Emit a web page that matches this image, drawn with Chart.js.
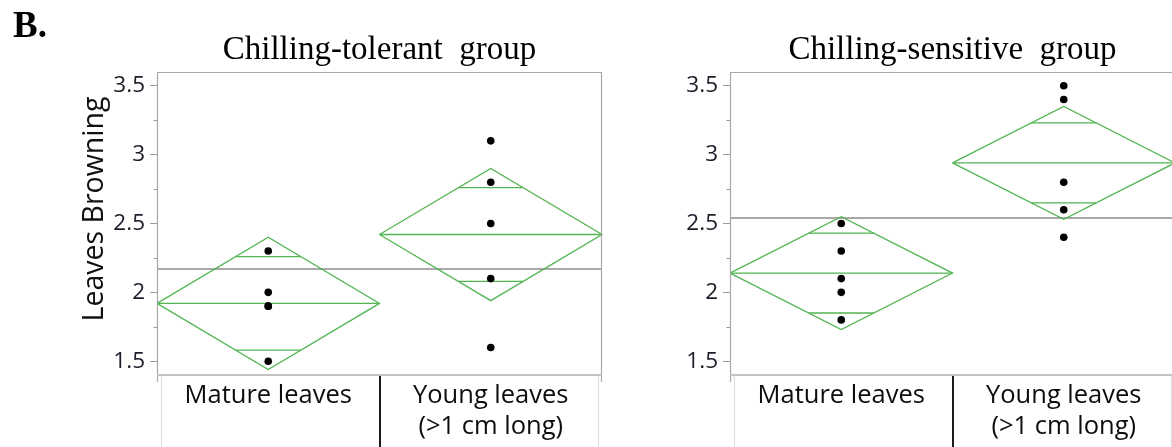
<!DOCTYPE html>
<html>
<head>
<meta charset="utf-8">
<script src="https://cdn.jsdelivr.net/npm/chart.js@4.4.1/dist/chart.umd.min.js"></script>
<style>
  html, body { margin: 0; padding: 0; background: #fff; overflow: hidden; }
  #wrap { position: relative; width: 1172px; height: 447px; overflow: hidden; }
  canvas { position: absolute; top: 0; }
  #left { left: 0; }
  #right { left: 640px; }
</style>
</head>
<body>
<div id="wrap">
  <canvas id="left" width="640" height="447"></canvas>
  <canvas id="right" width="560" height="447"></canvas>
</div>
<script>
// Category labels (one entry per line) and axis ticks
const categories = [["Mature leaves"], ["Young leaves", "(>1 cm long)"]];
const panelLetter = "B.";
const yAxisTitle = "Leaves Browning";
const yTicks = [1.5, 2, 2.5, 3, 3.5];
const yMinorTicks = [1.75, 2.25, 2.75, 3.25];

// Chilling-tolerant group
const tolerantTitle = "Chilling-tolerant  group";
const tolerantMature = [2.3, 2.0, 1.9, 1.9, 1.5];
const tolerantYoung = [3.1, 2.8, 2.5, 2.1, 1.6];
const tolerantMeans = [1.92, 2.42];
const tolerantCiUpper = [2.40, 2.90];
const tolerantCiLower = [1.44, 1.94];
const tolerantMarkUpper = [2.26, 2.76];
const tolerantMarkLower = [1.58, 2.08];
const tolerantGrandMean = 2.17;

// Chilling-sensitive group
const sensitiveTitle = "Chilling-sensitive  group";
const sensitiveMature = [2.5, 2.3, 2.1, 2.0, 1.8];
const sensitiveYoung = [3.5, 3.4, 2.8, 2.6, 2.4];
const sensitiveMeans = [2.14, 2.94];
const sensitiveCiUpper = [2.55, 3.35];
const sensitiveCiLower = [1.73, 2.53];
const sensitiveMarkUpper = [2.43, 3.23];
const sensitiveMarkLower = [1.85, 2.65];
const sensitiveGrandMean = 2.54;

const GREEN = '#52b552';
const SANS = '"Open Sans", "Noto Sans", sans-serif';
const SERIF = '"Liberation Serif", "Times New Roman", serif';

function lineSet(points, color, width, order) {
  return {
    type: 'scatter', data: points, showLine: true, tension: 0,
    borderColor: color, borderWidth: width, pointRadius: 0,
    fill: false, clip: false, order: order
  };
}

function buildDatasets(groups, g) {
  const ds = [];
  // grand mean across both categories
  ds.push(lineSet([{x: 0, y: g.grand}, {x: categories.length, y: g.grand}], '#8c8c8c', 1.5, 3));
  for (let i = 0; i < categories.length; i++) {
    const m = g.means[i], hi = g.ciUpper[i], lo = g.ciLower[i];
    const c = i + 0.5;
    // means diamond
    ds.push(lineSet([
      {x: i, y: m}, {x: c, y: hi}, {x: i + 1, y: m}, {x: c, y: lo}, {x: i, y: m}
    ], GREEN, 1.3, 2));
    // mean line
    ds.push(lineSet([{x: i, y: m}, {x: i + 1, y: m}], GREEN, 1.3, 2));
    // overlap marks, spanning the diamond at their height
    const fu = (g.markUpper[i] - m) / (hi - m);
    const fl = (m - g.markLower[i]) / (m - lo);
    const hu = 0.5 * (1 - fu), hl = 0.5 * (1 - fl);
    ds.push(lineSet([{x: c - hu, y: g.markUpper[i]}, {x: c + hu, y: g.markUpper[i]}], GREEN, 1.3, 2));
    ds.push(lineSet([{x: c - hl, y: g.markLower[i]}, {x: c + hl, y: g.markLower[i]}], GREEN, 1.3, 2));
  }
  // observations
  groups.forEach((vals, i) => {
    ds.push({
      type: 'scatter',
      data: vals.map(v => ({x: i + 0.5, y: v})),
      pointRadius: 3.8, pointBackgroundColor: '#000', pointBorderWidth: 0,
      borderColor: '#000', showLine: false, clip: false, order: 0
    });
  });
  return ds;
}

const decorations = {
  id: 'decorations',
  afterDraw(chart, args, opts) {
    const ctx = chart.ctx;
    const a = chart.chartArea;
    const xs = chart.scales.x, ys = chart.scales.y;
    const H = chart.height;
    ctx.save();

    // frame
    ctx.strokeStyle = '#a8a8a8';
    ctx.lineWidth = 1.2;
    ctx.beginPath();
    ctx.moveTo(a.left + 0.5, a.bottom + 7);
    ctx.lineTo(a.left + 0.5, a.top + 0.5);
    ctx.lineTo(a.right - 0.5, a.top + 0.5);
    ctx.lineTo(a.right - 0.5, a.bottom + 7);
    ctx.stroke();
    ctx.strokeStyle = '#c4c4c4';
    ctx.lineWidth = 2;
    ctx.beginPath();
    ctx.moveTo(a.left, a.bottom);
    ctx.lineTo(a.right, a.bottom);
    ctx.stroke();

    // minor y ticks
    ctx.strokeStyle = '#9a9a9a';
    ctx.lineWidth = 1;
    yMinorTicks.forEach(v => {
      const y = Math.round(ys.getPixelForValue(v)) + 0.5;
      ctx.beginPath();
      ctx.moveTo(a.left - 3.5, y);
      ctx.lineTo(a.left, y);
      ctx.stroke();
    });

    // category cells below the frame
    ctx.strokeStyle = '#dcdcdc';
    ctx.lineWidth = 1;
    ctx.beginPath();
    ctx.moveTo(a.left + 4.5, a.bottom + 1);
    ctx.lineTo(a.left + 4.5, H);
    ctx.moveTo(a.right - 3.5, a.bottom + 1);
    ctx.lineTo(a.right - 3.5, H);
    ctx.stroke();
    ctx.strokeStyle = '#1a1a1a';
    ctx.lineWidth = 2;
    for (let i = 1; i < categories.length; i++) {
      const x = Math.round(xs.getPixelForValue(i));
      ctx.beginPath();
      ctx.moveTo(x, a.bottom + 1);
      ctx.lineTo(x, H);
      ctx.stroke();
    }
    ctx.fillStyle = '#0d0d0d';
    ctx.font = '25.5px ' + SANS;
    ctx.textAlign = 'center';
    ctx.textBaseline = 'alphabetic';
    categories.forEach((lines, i) => {
      const x = xs.getPixelForValue(i + 0.5);
      lines.forEach((t, k) => ctx.fillText(t, x, a.bottom + 28 + k * 31.3));
    });

    // panel title
    ctx.font = '33px ' + SERIF;
    ctx.fillStyle = '#000';
    ctx.fillText(opts.title, (a.left + a.right) / 2, 59);

    if (opts.showAxisTitle) {
      ctx.font = 'bold 37px ' + SERIF;
      ctx.textAlign = 'left';
      ctx.fillText(panelLetter, 13, 37);
      ctx.font = '28.5px ' + SANS;
      ctx.fillStyle = '#111';
      ctx.textAlign = 'center';
      ctx.translate(103, 209);
      ctx.rotate(-Math.PI / 2);
      ctx.fillText(yAxisTitle, 0, 0);
    }
    ctx.restore();
  }
};

function makePanel(id, groups, g, axisWidth, padRight, title, showAxisTitle) {
  return new Chart(document.getElementById(id), {
    type: 'scatter',
    data: { datasets: buildDatasets(groups, g) },
    plugins: [decorations],
    options: {
      responsive: false,
      animation: false,
      devicePixelRatio: 1,
      layout: { padding: { left: 0, right: padRight, top: 72, bottom: 72 } },
      plugins: {
        legend: { display: false },
        tooltip: { enabled: false },
        decorations: { title: title, showAxisTitle: showAxisTitle }
      },
      scales: {
        x: { type: 'linear', min: 0, max: categories.length, display: false },
        y: {
          type: 'linear', min: 1.4, max: 3.6,
          afterBuildTicks: s => { s.ticks = yTicks.map(v => ({value: v})); },
          afterFit: s => { s.width = axisWidth; },
          grid: { drawOnChartArea: false, drawTicks: true, tickLength: 7, tickColor: '#9a9a9a', tickWidth: 1 },
          border: { display: false },
          ticks: {
            padding: 5, color: '#1c1c2a',
            font: { family: SANS, size: 22.5 },
            callback: v => String(v)
          }
        }
      }
    }
  });
}

makePanel('left', [tolerantMature, tolerantYoung], {
  means: tolerantMeans, ciUpper: tolerantCiUpper, ciLower: tolerantCiLower,
  markUpper: tolerantMarkUpper, markLower: tolerantMarkLower, grand: tolerantGrandMean
}, 157, 38, tolerantTitle, true);

makePanel('right', [sensitiveMature, sensitiveYoung], {
  means: sensitiveMeans, ciUpper: sensitiveCiUpper, ciLower: sensitiveCiLower,
  markUpper: sensitiveMarkUpper, markLower: sensitiveMarkLower, grand: sensitiveGrandMean
}, 90, 25, sensitiveTitle, false);
</script>
</body>
</html>
